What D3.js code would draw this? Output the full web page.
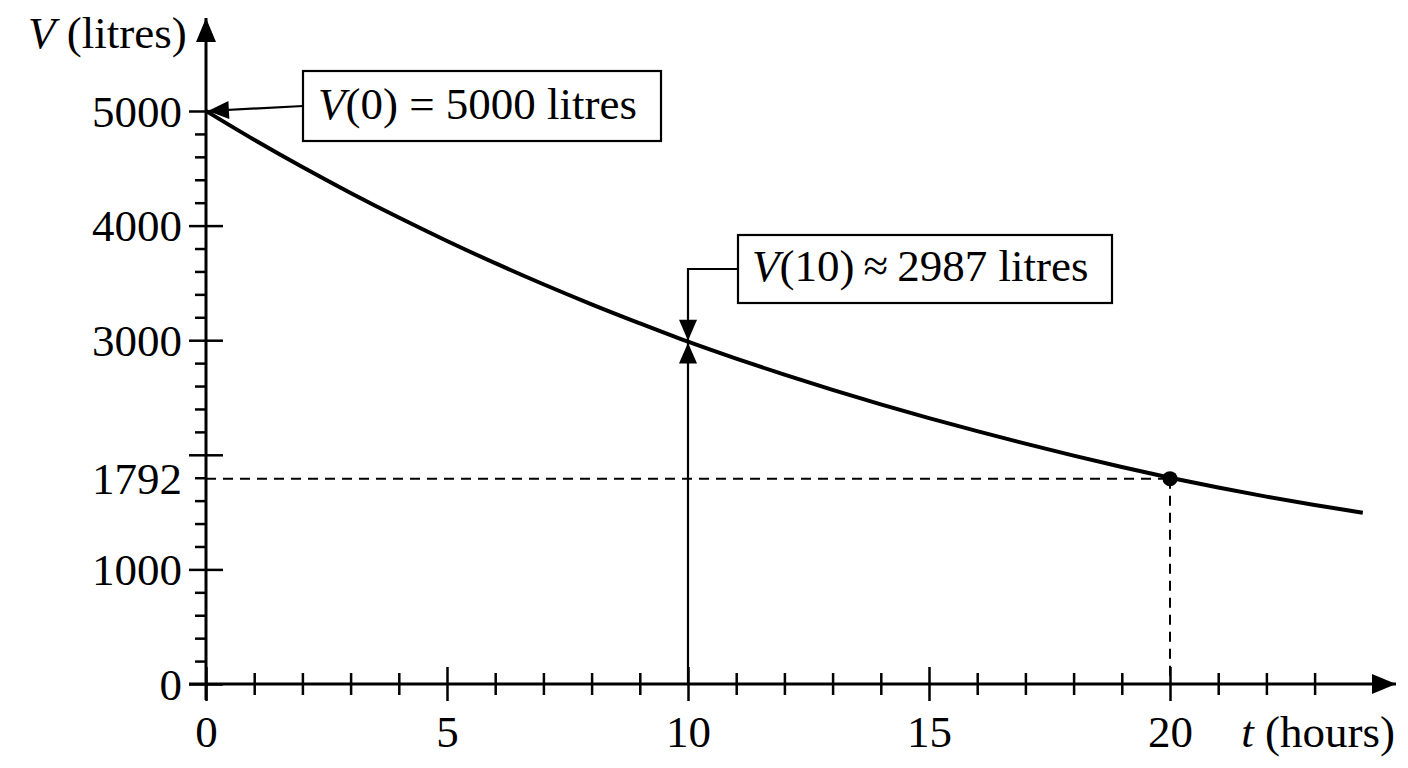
<!DOCTYPE html>
<html><head><meta charset="utf-8">
<script src="https://cdn.jsdelivr.net/npm/d3@7"></script>
<style>
html,body{margin:0;padding:0;background:#fff;}
svg{display:block;}
text{font-family:"Liberation Serif","Times New Roman",serif;fill:#000;}
</style></head>
<body>
<svg id="chart" width="1408" height="768"></svg>
<script>
// ---- data ----
const hours = [0,1,2,3,4,5,6,7,8,9,10,11,12,13,14,15,16,17,18,19,20,21,22,23,24];
const volume = [5000,4749,4511,4285,4070,3866,3672,3488,3313,3147,2987,2839,2699,2566,2440,2320,2206,2097,1993,1894,1800,1714,1635,1562,1495];
const xMajorTicks = [0,5,10,15,20];
const xMinorTicks = [1,2,3,4,6,7,8,9,11,12,13,14,16,17,18,19,21,22,23];
const yMajorTicks = [0,1000,2000,3000,4000,5000];
const yLabelTicks = [0,1000,1792,3000,4000,5000];
const yMinorTicks = [200,400,600,800,1200,1400,1600,1800,2200,2400,2600,2800,3200,3400,3600,3800,4200,4400,4600,4800];
const markT = 20, markV = 1792;
const annT = 10, annV = 2987;

const svg = d3.select("#chart");
const x = d3.scaleLinear().domain([0, 10]).range([206, 688]);
const y = d3.scaleLinear().domain([0, 5000]).range([684, 111]);
const FS = 45;

// arrow markers
const defs = svg.append("defs");
defs.append("marker").attr("id","arr").attr("viewBox","0 -10 24 20")
  .attr("refX",24).attr("refY",0).attr("markerUnits","userSpaceOnUse")
  .attr("markerWidth",24).attr("markerHeight",20).attr("orient","auto")
  .append("path").attr("d","M0,-10L24,0L0,10Z").attr("fill","#000");
defs.append("marker").attr("id","arrS").attr("viewBox","0 -10 22 20")
  .attr("refX",22).attr("refY",0).attr("markerUnits","userSpaceOnUse")
  .attr("markerWidth",22).attr("markerHeight",19).attr("orient","auto")
  .append("path").attr("d","M0,-9.5L22,0L0,9.5Z").attr("fill","#000");

// dashed guides
svg.append("line").attr("x1",x(0)).attr("x2",x(markT)).attr("y1",y(markV)).attr("y2",y(markV))
  .attr("stroke","#000").attr("stroke-width",2).attr("stroke-dasharray","10,7");
svg.append("line").attr("x1",x(markT)).attr("x2",x(markT)).attr("y1",y(markV)).attr("y2",y(0))
  .attr("stroke","#000").attr("stroke-width",2).attr("stroke-dasharray","10,7");

// axes lines with arrows
svg.append("line").attr("x1",x(0)).attr("x2",x(0)).attr("y1",y(0)+16).attr("y2",18)
  .attr("stroke","#000").attr("stroke-width",3).attr("marker-end","url(#arr)");
svg.append("line").attr("x1",x(0)-17).attr("x2",1396).attr("y1",y(0)).attr("y2",y(0))
  .attr("stroke","#000").attr("stroke-width",3).attr("marker-end","url(#arr)");

function cleanAxis(g){ g.select(".domain").remove(); g.selectAll(".tick line").attr("stroke","#000").attr("stroke-width",2.5); }

// y major ticks (both sides)
svg.append("g").attr("transform",`translate(${x(0)},0)`)
  .call(d3.axisLeft(y).tickValues(yMajorTicks).tickSize(17).tickFormat("")).call(cleanAxis);
svg.append("g").attr("transform",`translate(${x(0)},0)`)
  .call(d3.axisRight(y).tickValues(yMajorTicks).tickSize(17).tickFormat("")).call(cleanAxis);
// y minor ticks (left)
svg.append("g").attr("transform",`translate(${x(0)},0)`)
  .call(d3.axisLeft(y).tickValues(yMinorTicks).tickSize(11).tickFormat("")).call(cleanAxis);
// y labels
const yl = svg.append("g").attr("transform",`translate(${x(0)},0)`)
  .call(d3.axisLeft(y).tickValues(yLabelTicks).tickSize(0).tickPadding(24).tickFormat(d3.format("d")));
yl.select(".domain").remove();
yl.selectAll("text").attr("font-family","Liberation Serif").attr("font-size",FS).attr("fill","#000").attr("dy","0.34em");

// x major ticks (both sides)
svg.append("g").attr("transform",`translate(0,${y(0)})`)
  .call(d3.axisBottom(x).tickValues(xMajorTicks).tickSize(17).tickFormat("")).call(cleanAxis);
svg.append("g").attr("transform",`translate(0,${y(0)})`)
  .call(d3.axisTop(x).tickValues(xMajorTicks).tickSize(17).tickFormat("")).call(cleanAxis);
// x minor ticks (both sides)
svg.append("g").attr("transform",`translate(0,${y(0)})`)
  .call(d3.axisBottom(x).tickValues(xMinorTicks).tickSize(11).tickFormat("")).call(cleanAxis);
svg.append("g").attr("transform",`translate(0,${y(0)})`)
  .call(d3.axisTop(x).tickValues(xMinorTicks).tickSize(11).tickFormat("")).call(cleanAxis);
// x labels
const xl = svg.append("g").attr("transform",`translate(0,${y(0)})`)
  .call(d3.axisBottom(x).tickValues(xMajorTicks).tickSize(0).tickPadding(0).tickFormat(d3.format("d")));
xl.select(".domain").remove();
xl.selectAll("text").attr("font-family","Liberation Serif").attr("font-size",FS).attr("fill","#000").attr("dy",null).attr("y",63);

// axis titles
const yt = svg.append("text").attr("x",28).attr("y",48).attr("font-size",FS);
yt.append("tspan").attr("font-style","italic").text("V");
yt.append("tspan").text(" (litres)");
const xt = svg.append("text").attr("x",1395).attr("y",747).attr("font-size",FS).attr("text-anchor","end");
xt.append("tspan").attr("font-style","italic").text("t");
xt.append("tspan").text(" (hours)");

// curve
const line = d3.line().x((d,i)=>x(hours[i])).y(d=>y(d)).curve(d3.curveMonotoneX);
svg.append("path").datum(volume).attr("d",line).attr("fill","none")
  .attr("stroke","#000").attr("stroke-width",4);

// point at t=20
svg.append("circle").attr("cx",x(markT)).attr("cy",y(markV)).attr("r",7.5).attr("fill","#000");

// annotation 1: V(0)
const b1 = {x:303, y:71, w:358, h:70};
svg.append("line").attr("x1",b1.x).attr("y1",b1.y+35).attr("x2",x(0)+2).attr("y2",y(volume[0]))
  .attr("stroke","#000").attr("stroke-width",2.2).attr("marker-end","url(#arrS)");
svg.append("rect").attr("x",b1.x).attr("y",b1.y).attr("width",b1.w).attr("height",b1.h)
  .attr("fill","#fff").attr("stroke","#000").attr("stroke-width",2.2);
const t1 = svg.append("text").attr("x",b1.x+15).attr("y",b1.y+48).attr("font-size",FS);
t1.append("tspan").attr("font-style","italic").text("V");
t1.append("tspan").text("(0) = 5000 litres");

// annotation 2: V(10)
const b2 = {x:738, y:235, w:374, h:68};
const yv = y(annV);
svg.append("path").attr("d",`M${b2.x},${b2.y+34}H${x(annT)}V${yv-1}`).attr("fill","none")
  .attr("stroke","#000").attr("stroke-width",2.2).attr("marker-end","url(#arrS)");
svg.append("line").attr("x1",x(annT)).attr("x2",x(annT)).attr("y1",y(0)).attr("y2",yv+1)
  .attr("stroke","#000").attr("stroke-width",2.2).attr("marker-end","url(#arrS)");
svg.append("rect").attr("x",b2.x).attr("y",b2.y).attr("width",b2.w).attr("height",b2.h)
  .attr("fill","#fff").attr("stroke","#000").attr("stroke-width",2.2);
const t2 = svg.append("text").attr("x",b2.x+14).attr("y",b2.y+46).attr("font-size",FS);
t2.append("tspan").attr("font-style","italic").text("V");
t2.append("tspan").text("(10)\u2009\u2248\u20092987 litres");
</script>
</body></html>
